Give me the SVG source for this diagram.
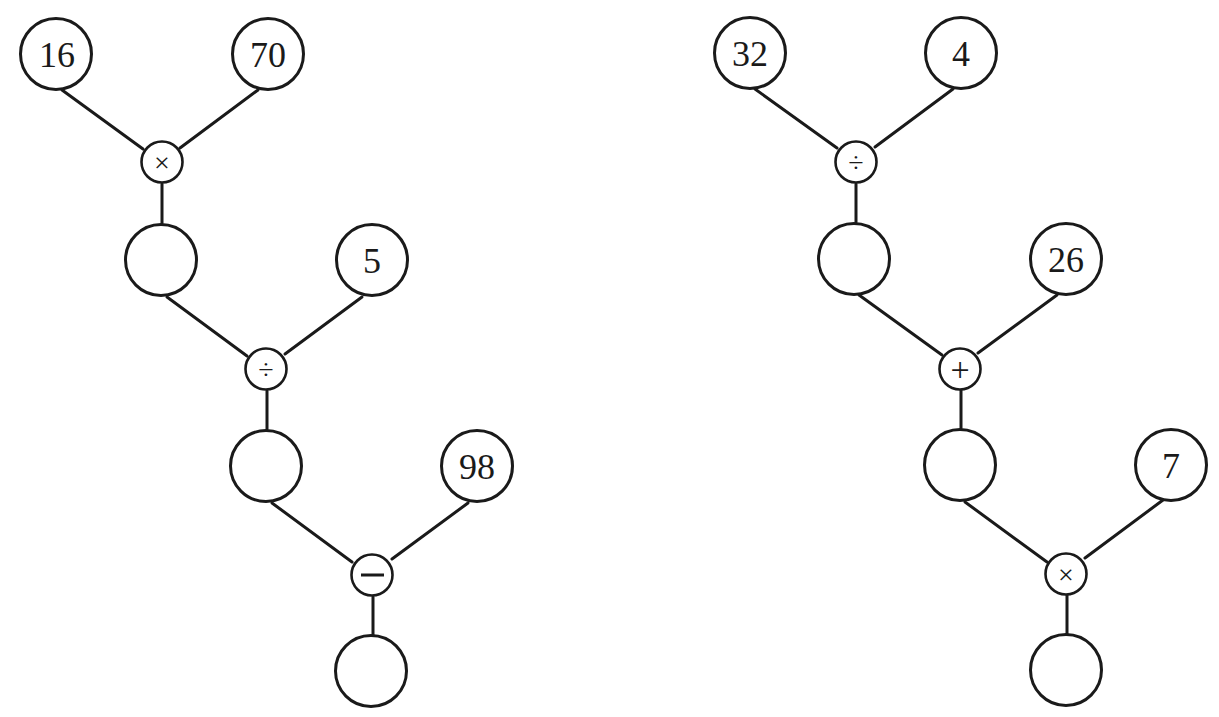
<svg xmlns="http://www.w3.org/2000/svg" width="1219" height="717" viewBox="0 0 1219 717">
<style>
.big{fill:#fff;stroke:#1a1a1a;stroke-width:3}
.op{fill:#fff;stroke:#1a1a1a;stroke-width:2.6}
.num{font-family:"Liberation Serif",serif;font-size:36px;fill:#1a1a1a;text-anchor:middle}
.sym{font-family:"Liberation Serif",serif;font-size:28px;fill:#1a1a1a;text-anchor:middle}
#connectors line{stroke:#1a1a1a;stroke-width:3;stroke-linecap:round}
</style>
<rect width="1219" height="717" fill="#fff"/>
<g id="connectors">
<line x1="62" y1="90" x2="143" y2="149"/>
<line x1="258" y1="90" x2="180" y2="148"/>
<line x1="162" y1="184" x2="162" y2="223"/>
<line x1="167" y1="297" x2="247" y2="356"/>
<line x1="362" y1="297" x2="285" y2="354"/>
<line x1="267" y1="391" x2="267" y2="429"/>
<line x1="272" y1="503" x2="352" y2="562"/>
<line x1="468" y1="503" x2="392" y2="559"/>
<line x1="373" y1="597" x2="373" y2="635"/>
<line x1="755" y1="89" x2="837" y2="148"/>
<line x1="953" y1="89" x2="875" y2="147"/>
<line x1="856" y1="184" x2="856" y2="222"/>
<line x1="859" y1="295" x2="942" y2="355"/>
<line x1="1057" y1="295" x2="978" y2="353"/>
<line x1="961" y1="390" x2="961" y2="428"/>
<line x1="965" y1="502" x2="1047" y2="562"/>
<line x1="1163" y1="500" x2="1085" y2="558"/>
<line x1="1067" y1="595" x2="1067" y2="634"/>
</g>
<g id="n16"><circle class="big" cx="56" cy="54" r="35.5"/><text class="num" x="57" y="67">16</text></g>
<g id="n70"><circle class="big" cx="268" cy="54" r="35.5"/><text class="num" x="268" y="67">70</text></g>
<g id="opL1"><circle class="op" cx="162" cy="162" r="20.5"/><text class="sym" x="162" y="172">×</text></g>
<g id="eL1"><circle class="big" cx="161" cy="260" r="35.5"/></g>
<g id="n5"><circle class="big" cx="372" cy="260" r="35.5"/><text class="num" x="372" y="273">5</text></g>
<g id="opL2"><circle class="op" cx="266" cy="369" r="20.5"/><text class="sym" x="266" y="379">÷</text></g>
<g id="eL2"><circle class="big" cx="266" cy="466" r="35.5"/></g>
<g id="n98"><circle class="big" cx="477" cy="466" r="35.5"/><text class="num" x="477" y="479">98</text></g>
<g id="opL3"><circle class="op" cx="372" cy="575" r="20.5"/><rect x="361" y="573.5" width="23" height="3" fill="#1a1a1a"/></g>
<g id="eL3"><circle class="big" cx="371" cy="671" r="35.5"/></g>
<g id="n32"><circle class="big" cx="750" cy="53" r="35.5"/><text class="num" x="750" y="66">32</text></g>
<g id="n4"><circle class="big" cx="961" cy="53" r="35.5"/><text class="num" x="961" y="66">4</text></g>
<g id="opR1"><circle class="op" cx="856" cy="162" r="20.5"/><text class="sym" x="856" y="172">÷</text></g>
<g id="eR1"><circle class="big" cx="854" cy="259" r="35.5"/></g>
<g id="n26"><circle class="big" cx="1066" cy="259" r="35.5"/><text class="num" x="1066" y="272">26</text></g>
<g id="opR2"><circle class="op" cx="960" cy="369" r="20.5"/><text class="sym" x="960" y="381" style="font-size:34px">+</text></g>
<g id="eR2"><circle class="big" cx="960" cy="465" r="35.5"/></g>
<g id="n7"><circle class="big" cx="1171" cy="465" r="35.5"/><text class="num" x="1171" y="478">7</text></g>
<g id="opR3"><circle class="op" cx="1066" cy="574" r="20.5"/><text class="sym" x="1066" y="584">×</text></g>
<g id="eR3"><circle class="big" cx="1066" cy="670" r="35.5"/></g>
</svg>
